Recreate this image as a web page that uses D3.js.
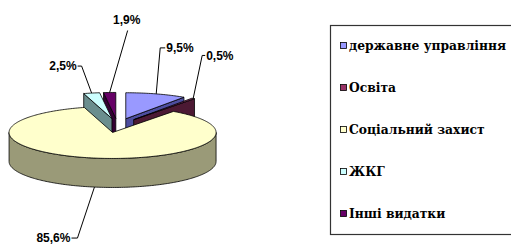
<!DOCTYPE html>
<html><head><meta charset="utf-8">
<script src="https://cdn.jsdelivr.net/npm/d3@7"></script>
<style>html,body{margin:0;padding:0;background:#fff;}svg{display:block;}</style>
</head><body>
<svg id="chart" width="511" height="244"></svg>
<script>
// ---- data ----
const categories = ["державне управління", "Освіта", "Соціальний захист", "ЖКГ", "Інші видатки"];
const values = [9.5, 0.5, 85.6, 2.5, 1.9];
const valueLabels = ["9,5%", "0,5%", "85,6%", "2,5%", "1,9%"];

// ---- styles ----
const topColors  = ["#9999FF", "#993366", "#FFFFCC", "#CCFFFF", "#660066"];
const sideColors = ["#4D4D9E", "#4C1933", "#9A9A78", "#6A8E8E", "#330033"];
const labelLayout = [
  {elbow:[4,-46],  text:[10,-46], anchor:"start"},
  {elbow:[9,-43],  text:[13,-43], anchor:"start"},
  {elbow:[-17,51], text:[-24,51], anchor:"end"},
  {elbow:[-10,-27],text:[-15,-27],anchor:"end"},
  {elbow:[18,-62], text:[17,-73], anchor:"middle", above:true}
];

const svg = d3.select("#chart");
const cx0 = 117.5, cy0 = 125.5, Rx = 103.5, Ry = 26, depth = 29, explode = 0.272;
const xS = d3.scaleLinear().domain([-1, 1]).range([cx0 - Rx, cx0 + Rx]);
const yS = d3.scaleLinear().domain([-1, 1]).range([cy0 + Ry, cy0 - Ry]);

const pie = d3.pie().sort(null).value(d => d)(values);
const slices = pie.map((p, i) => {
  const mid = (p.startAngle + p.endAngle) / 2;
  return {i, a0: p.startAngle, a1: p.endAngle, mid,
          ex: explode * Math.sin(mid), ez: explode * Math.cos(mid)};
});
function pt(s, a, r, h) {
  return [xS(s.ex + r * Math.sin(a)), yS(s.ez + r * Math.cos(a)) + (h || 0)];
}
function arcPts(s, a0, a1, h) {
  const n = Math.max(2, Math.ceil(Math.abs(a1 - a0) / (Math.PI / 180)));
  return d3.range(n + 1).map(k => pt(s, a0 + (a1 - a0) * k / n, 1, h));
}
const line = d3.line();
const g = svg.append("g").attr("stroke", "#000").attr("stroke-width", 0.8).attr("stroke-linejoin", "round");

const order = slices.slice().sort((a, b) => Math.cos(b.mid) - Math.cos(a.mid));
order.forEach(s => {
  const apex = pt(s, 0, 0, 0), apexB = pt(s, 0, 0, depth);
  const faces = [];
  if (Math.sin(s.a0) < -1e-6) faces.push(s.a0);
  if (Math.sin(s.a1) > 1e-6) faces.push(s.a1);
  faces.forEach(a => {
    g.append("path").attr("fill", sideColors[s.i])
      .attr("d", line([apex, pt(s, a, 1, 0), pt(s, a, 1, depth), apexB]) + "Z");
  });
  const f0 = Math.max(s.a0, Math.PI / 2), f1 = Math.min(s.a1, 3 * Math.PI / 2);
  if (f1 > f0) {
    const pts = arcPts(s, f0, f1, 0).concat(arcPts(s, f1, f0, depth));
    g.append("path").attr("fill", sideColors[s.i]).attr("d", line(pts) + "Z");
  }
  g.append("path").attr("fill", topColors[s.i])
    .attr("d", line([apex].concat(arcPts(s, s.a0, s.a1, 0))) + "Z");
});

const lg = svg.append("g");
slices.forEach(s => {
  const front = Math.cos(s.mid) < 0;
  const at = pt(s, s.mid, 1, front ? depth : 0);
  const L = labelLayout[s.i];
  const el = [at[0] + L.elbow[0], at[1] + L.elbow[1]];
  const tx = [at[0] + L.text[0], at[1] + L.text[1]];
  const pts = L.above ? [at, el] : [at, el, [tx[0] + (L.anchor === "start" ? -1 : 1), tx[1]]];
  lg.append("path").attr("d", line(pts)).attr("fill", "none").attr("stroke", "#000").attr("stroke-width", 1);
  lg.append("text").attr("x", tx[0]).attr("y", tx[1]).attr("dy", "0.36em")
    .attr("text-anchor", L.anchor)
    .style("font-family", "'Liberation Sans', Arial, sans-serif").attr("font-weight", "bold")
    .attr("font-size", 12).text(valueLabels[s.i]);
});

const leg = svg.append("g");
leg.append("rect").attr("x", 330.5).attr("y", 25.5).attr("width", 200).attr("height", 209)
  .attr("fill", "#fff").attr("stroke", "#333").attr("stroke-width", 1.2);
const ly = d3.scalePoint().domain(categories).range([46, 214]);
categories.forEach((c, i) => {
  leg.append("rect").attr("x", 340.5).attr("y", ly(c) - 3.5).attr("width", 6).attr("height", 6)
    .attr("fill", topColors[i]).attr("stroke", "#000").attr("stroke-width", 0.8);
  leg.append("text").attr("x", 349).attr("y", ly(c)).attr("dy", "0.35em")
    .style("font-family", "'DejaVu Serif', serif").attr("font-weight", "bold")
    .attr("font-size", 12.3).text(c);
});
</script>
</body></html>
